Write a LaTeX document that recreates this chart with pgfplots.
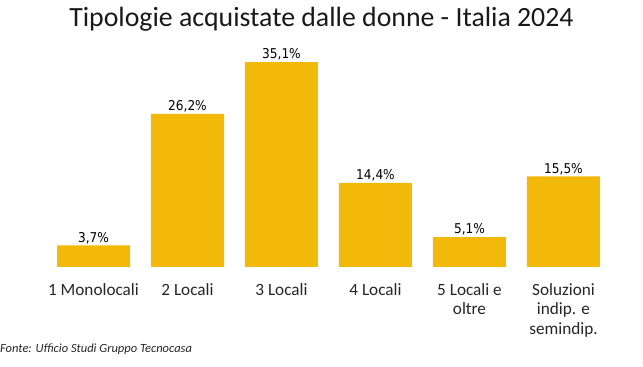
\documentclass[border=0pt]{standalone}
\usepackage{pgfplots}
\pgfplotsset{compat=1.18}
\usepackage{fontspec}
\setmainfont{Carlito}
\newfontfamily\valfont{DejaVu Sans Condensed}
\definecolor{bar}{RGB}{242,184,10}
\begin{document}
\begin{tikzpicture}[x=1pt,y=1pt]
\path[use as bounding box] (0,0) rectangle (643,367);
\begin{axis}[
  at={(46.5pt,100pt)}, anchor=south west,
  scale only axis, width=564pt, height=233.6pt,
  xmin=-0.5, xmax=5.5, ymin=0, ymax=40,
  hide y axis,
  axis x line*=bottom, x axis line style={draw=none},
  xtick=data, xtick style={draw=none},
  xticklabels={1 Monolocali,2 Locali,3 Locali,4 Locali,{5 Locali e\\oltre},{Soluzioni\\indip. e\\semindip.}},
  xticklabel style={font=\fontsize{17.2}{19.5}\selectfont, align=center, anchor=north, inner sep=0pt, yshift=-12pt, text=black!85},
  ybar, bar width=73pt,
  nodes near coords={\pgfmathprintnumber[use comma,fixed,precision=1,fixed zerofill]{\pgfplotspointmeta}\%},
  nodes near coords style={font=\valfont\fontsize{13.5}{15}\selectfont, /pgf/number format/assume math mode=true, anchor=south, inner sep=0pt, yshift=1.5pt, text=black},
]
\addplot[fill=bar, draw=none] coordinates {(0,3.7) (1,26.2) (2,35.1) (3,14.4) (4,5.1) (5,15.5)};
\end{axis}
\node[anchor=base, inner sep=0pt, text=black!90] at (321.5,340) {\fontsize{27.8}{32}\selectfont Tipologie acquistate dalle donne - Italia 2024};
\node[anchor=base west, inner sep=0pt, text=black!85] at (0,14) {\fontsize{12.5}{14}\selectfont\itshape Fonte: Ufficio Studi Gruppo Tecnocasa};
\end{tikzpicture}
\end{document}
